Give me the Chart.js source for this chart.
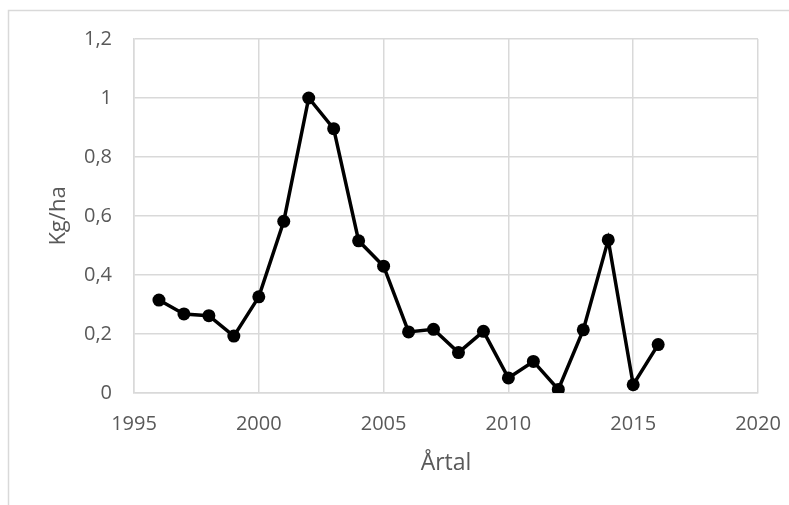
<!DOCTYPE html>
<html>
<head>
<meta charset="utf-8">
<script src="https://cdn.jsdelivr.net/npm/chart.js@4.4.1/dist/chart.umd.min.js"></script>
<style>
  html, body { margin: 0; padding: 0; background: #fff; }
  #wrap { width: 789px; height: 505px; }
</style>
</head>
<body>
<div id="wrap"><canvas id="kgChart" width="789" height="505"></canvas></div>
<script>
const years = [1996, 1997, 1998, 1999, 2000, 2001, 2002, 2003, 2004, 2005, 2006,
  2007, 2008, 2009, 2010, 2011, 2012, 2013, 2014, 2015, 2016];
const kgPerHa = [0.315, 0.268, 0.262, 0.193, 0.326, 0.582, 1.0, 0.896, 0.516, 0.43, 0.207,
  0.216, 0.137, 0.209, 0.051, 0.107, 0.012, 0.214, 0.519, 0.028, 0.164];
const xTicks = [1995, 2000, 2005, 2010, 2015, 2020];
const yTicks = [0, 0.2, 0.4, 0.6, 0.8, 1, 1.2];

const gridCol = "#d9d9d9";
const textCol = "#595959";

// light outer frame (left + top only, the rest is cut off)
const outerFrame = {
  id: "outerFrame",
  beforeDraw(chart) {
    const ctx = chart.ctx;
    ctx.save();
    ctx.strokeStyle = gridCol;
    ctx.lineWidth = 1.5;
    ctx.beginPath();
    ctx.moveTo(8.5, 505);
    ctx.lineTo(8.5, 10.5);
    ctx.lineTo(789, 10.5);
    ctx.stroke();
    ctx.restore();
  },
};

new Chart(document.getElementById("kgChart").getContext("2d"), {
  type: "line",
  data: {
    datasets: [
      {
        data: years.map((y, i) => ({ x: y, y: kgPerHa[i] })),
        borderColor: "#000",
        backgroundColor: "#000",
        borderWidth: 3.5,
        pointRadius: 6.5,
        pointBackgroundColor: "#000",
        pointBorderWidth: 0,
        tension: 0,
      },
    ],
  },
  options: {
    responsive: false,
    animation: false,
    layout: { padding: { left: 0, top: 39, right: 31, bottom: 0 } },
    plugins: { legend: { display: false }, tooltip: { enabled: false } },
    scales: {
      x: {
        type: "linear",
        min: 1995,
        max: 2020,
        afterBuildTicks: (s) => { s.ticks = xTicks.map((v) => ({ value: v })); },
        afterFit: (s) => {
          s.height = 112;
          s.paddingLeft = 0;
          s.paddingRight = 0;
        },
        grid: { color: gridCol, lineWidth: 1.5, drawTicks: false },
        border: { color: gridCol, width: 1.5 },
        ticks: {
          padding: 19,
          color: textCol,
          font: { family: "'Open Sans'", size: 20 },
          maxRotation: 0,
          callback: (v) => String(v),
        },
        title: {
          display: true,
          text: "Årtal",
          color: textCol,
          font: { family: "'Open Sans'", size: 23 },
          padding: { top: 0, bottom: 28 },
        },
      },
      y: {
        min: 0,
        max: 1.2,
        afterBuildTicks: (s) => { s.ticks = yTicks.map((v) => ({ value: v })); },
        afterFit: (s) => { s.width = 134; },
        grid: { color: gridCol, lineWidth: 1.5, drawTicks: false },
        border: { color: gridCol, width: 1.5 },
        ticks: {
          padding: 22,
          color: textCol,
          font: { family: "'Open Sans'", size: 20 },
          callback: (v) => String(Math.round(v * 10) / 10).replace(".", ","),
        },
        title: {
          display: true,
          text: "Kg/ha",
          color: textCol,
          font: { family: "'Open Sans'", size: 22 },
          padding: { top: 46, bottom: 0 },
        },
      },
    },
  },
  plugins: [outerFrame],
});
</script>
</body>
</html>
